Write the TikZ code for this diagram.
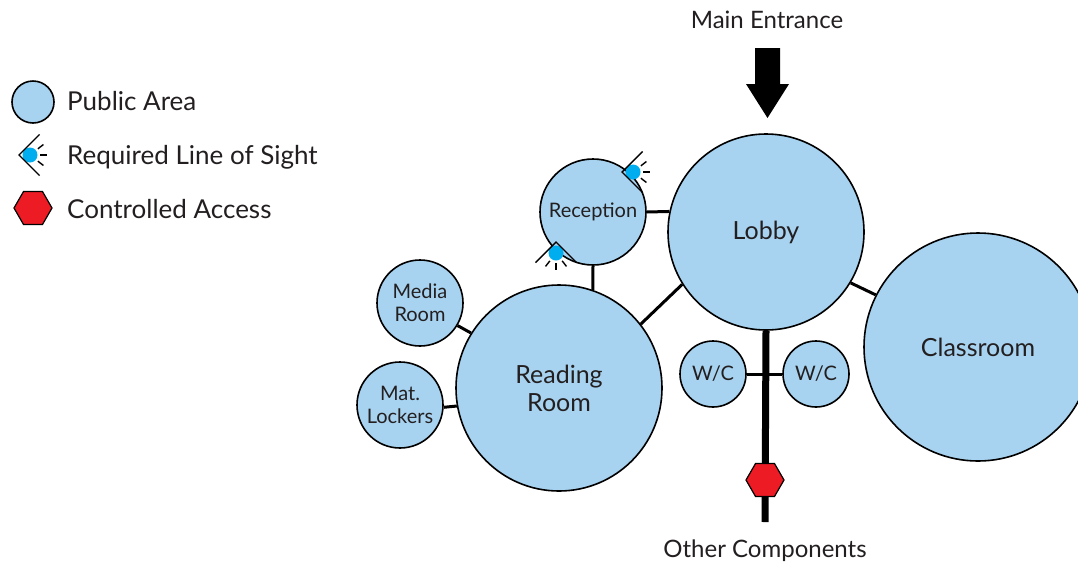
\documentclass[tikz,border=0pt]{standalone}
\usepackage{fontspec}
\setmainfont{Lato}
\usetikzlibrary{shapes.geometric}
\definecolor{pub}{RGB}{167,211,240}
\definecolor{eye}{RGB}{0,174,239}
\definecolor{ctl}{RGB}{237,28,36}
\definecolor{txt}{RGB}{35,31,32}
\begin{document}
\begin{tikzpicture}[x=1pt,y=-1pt,
  room/.style={circle,draw=black,line width=1.6pt,fill=pub,inner sep=0pt,text=txt,align=center},
  bigtxt/.style={font=\fontsize{25}{28}\selectfont},
  smalltxt/.style={font=\fontsize{20}{23}\selectfont},
  link/.style={line width=3pt},
  mainlink/.style={line width=7pt},
  gate/.style={regular polygon,regular polygon sides=6,draw=black,line width=1.2pt,fill=ctl,minimum size=38pt,inner sep=0pt},
  plaintext/.style={text=txt,font=\fontsize{24}{26}\selectfont,inner sep=0pt},
  legtext/.style={text=txt,font=\fontsize{26}{28}\selectfont,inner sep=0pt},
  los/.pic={
    \fill[eye] (11,0) circle (7.5);
    \draw[line width=1.4pt] (45:29) -- (0,0) -- (-45:29);
    \begin{scope}[shift={(11,0)},line width=1.4pt]
      \draw (0:10) -- (0:17);
      \draw (38:10) -- (38:17);
      \draw (-38:10) -- (-38:17);
    \end{scope}
  }
]
\clip (0,0) rectangle (1078,563);
\fill[white] (0,0) rectangle (1078,563);

% legend
\node[room,minimum size=42pt] (legcircle) at (33,102) {};
\node[legtext,anchor=base west] (legpub) at (67,110) {Public Area};
\pic at (19,155) {los};
\node[legtext,anchor=base west] (legsight) at (67,164) {Required Line of Sight};
\node[gate] (leggate) at (33,208) {};
\node[legtext,anchor=base west] (legctl) at (67,218) {Controlled Access};

% rooms
\node[room,smalltxt,minimum size=106pt] (reception) at (593,212) {Reception};
\node[room,bigtxt,minimum size=196pt] (lobby) at (766,232) {Lobby};
\node[room,bigtxt,minimum size=206pt] (reading) at (559,388) {Reading\\Room};
\node[room,smalltxt,minimum size=86pt] (media) at (420,303) {Media\\Room};
\node[room,smalltxt,minimum size=86pt] (lockers) at (400,405) {Mat.\\Lockers};
\node[room,bigtxt,minimum size=228pt] (classroom) at (978,347) {Classroom};
\node[room,smalltxt,minimum size=66pt] (wc1) at (713,374) {W/C};
\node[room,smalltxt,minimum size=66pt] (wc2) at (816,374) {W/C};

% outer labels
\node[plaintext,anchor=base] (entrance) at (767,28) {Main Entrance};
\node[plaintext,anchor=base] (other) at (765,557) {Other Components};
\coordinate (mainend) at (765,522);

% links
\draw[link] (reception.east) -- (lobby.168);
\draw[link] (reception.south) -- (reading.71);
\draw[link] (lobby.212) -- (reading.38);
\draw[link] (lobby.-31) -- (classroom.153);
\draw[link] (media.-31) -- (reading.148);
\draw[link] (lockers.-3) -- (reading.190);
\draw[mainlink] (lobby.south) -- (mainend);
\draw[link] (wc1.east) -- (wc2.west);
\node[gate] (gate) at (765,480) {};

% entrance arrow
\fill[black] (755,48) -- (780,48) -- (780,84) -- (789,84) -- (767.5,118) -- (746,84) -- (755,84) -- cycle;

% lines of sight
\pic at (622,172) {los};
\pic[rotate=-90] at (556,242) {los};
\end{tikzpicture}
\end{document}
